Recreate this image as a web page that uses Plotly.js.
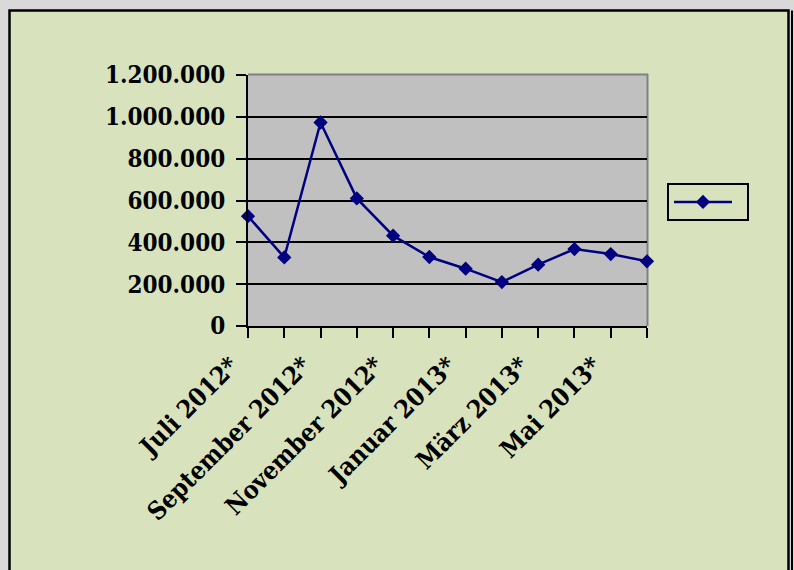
<!DOCTYPE html>
<html>
<head>
<meta charset="utf-8">
<script src="https://cdn.plot.ly/plotly-3.0.1.min.js"></script>
<style>html,body{margin:0;padding:0;background:#D9D9D9;}#chart{width:794px;height:570px;}</style>
</head>
<body>
<div id="chart"></div>
<script>
const months = ['Juli 2012*','August 2012*','September 2012*','Oktober 2012*','November 2012*','Dezember 2012*','Januar 2013*','Februar 2013*','März 2013*','April 2013*','Mai 2013*','Juni 2013*'];
const values = [525000, 328000, 973000, 610000, 432000, 330000, 274000, 210000, 293000, 368000, 344000, 309000];
const shownLabels = ['Juli 2012*','','September 2012*','','November 2012*','','Januar 2013*','','März 2013*','','Mai 2013*',''];
const yTicks = [0, 200000, 400000, 600000, 800000, 1000000, 1200000];

const W = 794, H = 570;
const L = 248, R = 647, T = 75, B = 326;
const px = x => (x - L) / (R - L);
const py = y => (B - y) / (B - T);
const FONT = '"DejaVu Serif Condensed", "DejaVu Serif", serif';

const idx = months.map((m, i) => i);

const trace = {
  x: idx, y: values, type: 'scatter', mode: 'lines+markers', name: ' ',
  line: {color: '#000080', width: 2.5},
  marker: {symbol: 'diamond', size: 11, color: '#000080'},
  cliponaxis: false, showlegend: true, hoverinfo: 'skip'
};

const shapes = [
  {type:'rect', xref:'paper', yref:'paper', x0:px(0), x1:px(W), y0:py(0), y1:py(9.5), fillcolor:'#D9D9D9', line:{width:0}},
  {type:'rect', xref:'paper', yref:'paper', x0:px(0), x1:px(8.5), y0:py(0), y1:py(H), fillcolor:'#D9D9D9', line:{width:0}},
  {type:'rect', xref:'paper', yref:'paper', x0:px(788), x1:px(W), y0:py(0), y1:py(H), fillcolor:'#D9D9D9', line:{width:0}},
  {type:'rect', xref:'paper', yref:'paper', x0:px(9.5), x1:px(788.5), y0:py(10.5), y1:py(H + 10), fillcolor:'rgba(0,0,0,0)', line:{color:'#000000', width:2.5}},
  {type:'line', xref:'paper', yref:'paper', x0:px(792), x1:px(792), y0:py(10.5), y1:py(H + 10), line:{color:'#000000', width:2}},
  {type:'line', xref:'paper', yref:'paper', x0:px(L), x1:px(R + 1), y0:py(T - 0.5), y1:py(T - 0.5), line:{color:'#808080', width:2}, layer:'below'},
  {type:'line', xref:'paper', yref:'paper', x0:px(R + 0.5), x1:px(R + 0.5), y0:py(T - 1), y1:py(B), line:{color:'#808080', width:2}, layer:'below'}
];

const layout = {
  width: W, height: H,
  margin: {l: L, r: W - R, t: T, b: H - B, pad: 0},
  paper_bgcolor: '#D8E3BD',
  plot_bgcolor: '#C0C0C0',
  separators: ',.',
  font: {family: FONT, color: '#000000'},
  showlegend: true,
  xaxis: {
    range: [0, 11], tickvals: idx, ticktext: shownLabels,
    tickangle: -45, ticks: 'outside', ticklen: 10, tickwidth: 2, tickcolor: '#000',
    ticklabelshift: -17, ticklabelstandoff: 3,
    showline: true, linecolor: '#000', linewidth: 2,
    showgrid: false, zeroline: false,
    tickfont: {family: FONT, size: 25, color: '#000', weight: 'bold'},
    fixedrange: true
  },
  yaxis: {
    range: [0, 1200000], tickvals: yTicks, tickformat: ',d',
    ticks: 'outside', ticklen: 10, tickwidth: 2, tickcolor: '#000',
    ticklabelstandoff: 6,
    showline: true, linecolor: '#000', linewidth: 2,
    showgrid: true, gridcolor: '#000000', gridwidth: 2, zeroline: false,
    tickfont: {family: FONT, size: 24, color: '#000', weight: 'bold'},
    fixedrange: true
  },
  legend: {
    x: px(667), y: py(183), xanchor: 'left', yanchor: 'top',
    bgcolor: 'rgba(0,0,0,0)', bordercolor: '#000', borderwidth: 2,
    itemwidth: 58, font: {size: 16}
  },
  shapes: shapes
};

Plotly.newPlot('chart', [trace], layout, {staticPlot: true, displayModeBar: false});
</script>
</body>
</html>
